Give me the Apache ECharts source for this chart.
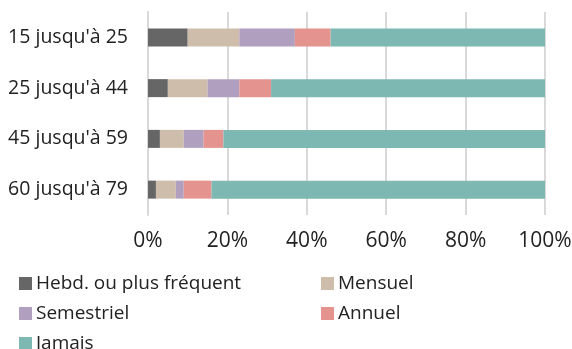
<!DOCTYPE html>
<html>
<head>
<meta charset="utf-8">
<script src="https://cdn.jsdelivr.net/npm/echarts@6/dist/echarts.min.js"></script>
<style>
  html, body { margin: 0; padding: 0; background: #fff; }
  #chart { width: 572px; height: 349px; }
</style>
</head>
<body>
<div id="chart"></div>
<script>
// Age groups, top to bottom
const categories = ["15 jusqu'à 25", "25 jusqu'à 44", "45 jusqu'à 59", "60 jusqu'à 79"];

// Share of each frequency (%) per age group
const hebdo      = [10, 5, 3, 2];
const mensuel    = [13, 10, 6, 5];
const semestriel = [14, 8, 5, 2];
const annuel     = [9, 8, 5, 7];
const jamais     = [54, 69, 81, 84];

const seriesNames = ['Hebd. ou plus fréquent', 'Mensuel', 'Semestriel', 'Annuel', 'Jamais'];
const seriesData = [hebdo, mensuel, semestriel, annuel, jamais];
const colors = ['#666666', '#cfbdab', '#b09fbf', '#e5938e', '#7db8b2'];

const FONT = '"Open Sans", "Noto Sans", sans-serif';
const X_FS = 21;
const Y_FS = 19.5;
const LEGEND_FS = 19;

// Legend laid out as two columns, one legend per entry
const legendPos = [
  { left: 19, top: 274 },
  { left: 321, top: 274 },
  { left: 19, top: 304 },
  { left: 321, top: 304 },
  { left: 19, top: 334 }
];

const chart = echarts.init(document.getElementById('chart'), null, { renderer: 'canvas' });

chart.setOption({
  animation: false,
  color: colors,
  grid: {
    left: 148, right: 27, top: 12, bottom: 134,
    containLabel: false,
    outerBoundsMode: 'none'
  },
  legend: seriesNames.map((n, i) => ({
    data: [n],
    left: legendPos[i].left,
    top: legendPos[i].top,
    itemWidth: 13,
    itemHeight: 13,
    itemGap: 4,
    icon: 'rect',
    padding: 0,
    selectedMode: false,
    textStyle: { fontFamily: FONT, fontSize: LEGEND_FS, color: '#222', padding: [0, 0, 0, -1] }
  })),
  xAxis: {
    type: 'value',
    min: 0,
    max: 100,
    interval: 20,
    axisLine: { show: false },
    axisTick: { show: false },
    splitLine: { show: true, lineStyle: { color: '#d9d9d9', width: 2 } },
    axisLabel: {
      formatter: '{value}%',
      fontFamily: FONT,
      fontSize: X_FS,
      color: '#222',
      margin: 16
    }
  },
  yAxis: {
    type: 'category',
    inverse: true,
    data: categories,
    axisLine: { show: true, lineStyle: { color: '#d9d9d9', width: 2 } },
    axisTick: { show: false },
    axisLabel: {
      fontFamily: FONT,
      fontSize: Y_FS,
      color: '#222',
      margin: 20
    }
  },
  series: seriesNames.map((n, i) => ({
    name: n,
    type: 'bar',
    stack: 'total',
    barWidth: 18,
    data: seriesData[i],
    itemStyle: { color: colors[i] }
  }))
});
</script>
</body>
</html>
